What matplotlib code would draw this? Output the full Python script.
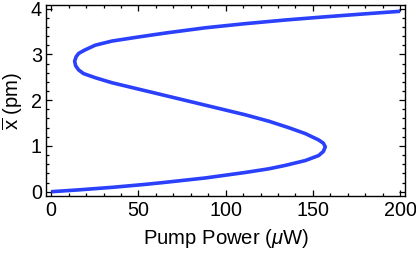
import matplotlib
matplotlib.use("Agg")
import matplotlib.pyplot as plt
from matplotlib.ticker import MultipleLocator

plt.rcParams['font.family'] = ['Liberation Sans', 'DejaVu Sans']
plt.rcParams['mathtext.fontset'] = 'custom'
plt.rcParams['mathtext.rm'] = 'Liberation Sans'
plt.rcParams['mathtext.it'] = 'Liberation Sans:italic'

# curve, ordered along the branch (P in uW, x in pm)
power_uw = [0, 15.7, 34.8, 53.9, 65.4, 88.3, 111.2, 124.7, 134.2, 145.6,
            153.3, 156.0, 157.1, 156.0, 153.3, 145.6, 136.0, 124.7, 111.2,
            88.3, 65.4, 50.1, 34.8, 25.2, 18.5, 15.7, 14.0, 13.4, 14.3,
            15.7, 19.0, 25.2, 34.8, 50.1, 65.4, 88.3, 111.2, 134.2, 157.1,
            180.0, 200.0]
x_pm = [0.00, 0.04, 0.095, 0.16, 0.205, 0.30, 0.42, 0.50, 0.575, 0.68,
        0.79, 0.88, 0.98, 1.06, 1.13, 1.27, 1.40, 1.54, 1.68,
        1.89, 2.10, 2.24, 2.38, 2.49, 2.58, 2.66, 2.75, 2.85, 2.95,
        3.02, 3.09, 3.20, 3.29, 3.38, 3.465, 3.58, 3.67, 3.75, 3.82,
        3.885, 3.94]

fig = plt.figure(figsize=(4.16, 2.54), dpi=100)
ax = fig.add_axes([0.1106, 0.2283, 0.863, 0.7517])

ax.plot(power_uw, x_pm, color='#2a40fa', lw=2.6,
        solid_joinstyle='round', solid_capstyle='butt')

ax.set_xlim(-3.0, 202.8)
ax.set_ylim(-0.094, 4.076)
ax.xaxis.set_major_locator(MultipleLocator(50))
ax.xaxis.set_minor_locator(MultipleLocator(10))
ax.yaxis.set_major_locator(MultipleLocator(1))
ax.yaxis.set_minor_locator(MultipleLocator(0.2))
ax.tick_params(which='both', direction='in', top=True, right=True,
               labelsize=14.2, width=0.9, colors='black')
ax.tick_params(axis='x', which='major', length=4.5, pad=3.6)
ax.tick_params(axis='y', which='major', length=4.5, pad=3)
ax.tick_params(which='minor', length=2.2)
for s in ax.spines.values():
    s.set_linewidth(1.0)

ax.set_xlabel('Pump Power ($\\mu$W)', fontsize=14.6, labelpad=5)
ax.set_ylabel('$\\overline{\\mathrm{x}}$ (pm)', fontsize=14.6, labelpad=4)

fig.savefig('out.png', dpi=100)
